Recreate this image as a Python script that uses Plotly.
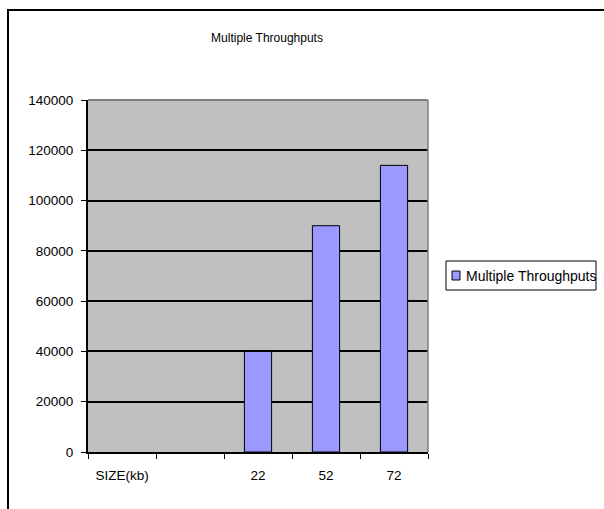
import plotly.graph_objects as go

# Throughput per transfer size
categories = ["SIZE(kb)", " ", "22", "52", "72"]
throughputs = [None, None, 40000, 90000, 114000]
y_ticks = [0, 20000, 40000, 60000, 80000, 100000, 120000, 140000]
series_name = "Multiple Throughputs"

W, H = 604, 509
L, R, T, B = 88, 428, 100, 452  # plot area in pixels

BAR_FILL = "#9999FF"
FAMILY = "Liberation Sans, Arial, sans-serif"


def px_x(p):
    return (p - L) / (R - L)


def px_y(p):
    return (B - p) / (B - T)


title_font = dict(family=FAMILY, size=12, color="black")
tick_font = dict(family=FAMILY, size=13.5, color="black")
legend_font = dict(family=FAMILY, size=14, color="black")

fig = go.Figure(
    go.Bar(
        x=categories,
        y=throughputs,
        name=series_name,
        marker=dict(color=BAR_FILL, line=dict(color="black", width=1)),
        width=0.4,
        showlegend=False,
    )
)

fig.update_layout(
    width=W,
    height=H,
    margin=dict(l=L, r=W - R, t=T, b=H - B, autoexpand=False),
    paper_bgcolor="white",
    plot_bgcolor="#C0C0C0",
    font=title_font,
    title=dict(
        text=series_name,
        font=title_font,
        xref="paper",
        x=px_x(267),
        xanchor="center",
        yref="container",
        y=1 - 38 / H,
        yanchor="middle",
    ),
    showlegend=False,
    bargap=0.6,
)

fig.update_xaxes(
    type="category",
    categoryorder="array",
    categoryarray=categories,
    tickson="boundaries",
    ticks="outside",
    ticklen=5,
    tickcolor="black",
    tickwidth=1,
    showline=True,
    linecolor="black",
    linewidth=2,
    showgrid=False,
    tickfont=tick_font,
    ticklabelstandoff=10,
    fixedrange=True,
)

fig.update_yaxes(
    range=[0, 140000],
    tickvals=y_ticks,
    ticktext=[str(v) for v in y_ticks],
    ticks="outside",
    ticklen=5,
    tickcolor="black",
    tickwidth=1,
    showline=True,
    linecolor="black",
    linewidth=2,
    showgrid=True,
    gridcolor="black",
    gridwidth=2,
    zeroline=False,
    tickfont=tick_font,
    ticklabelstandoff=5,
    fixedrange=True,
)

# plot-area frame (top and right edges) and chart-area border
fig.add_shape(type="line", xref="paper", yref="paper", x0=0, x1=1, y0=1, y1=1,
              line=dict(color="#808080", width=2), layer="above")
fig.add_shape(type="line", xref="paper", yref="paper", x0=1, x1=1, y0=0, y1=1,
              line=dict(color="#808080", width=1.5), layer="above")
fig.add_shape(type="rect", xref="paper", yref="paper",
              x0=px_x(8), x1=px_x(640), y0=px_y(10), y1=px_y(560),
              line=dict(color="black", width=2), fillcolor="rgba(0,0,0,0)",
              layer="above")

# series key: framed box, swatch and label
fig.add_shape(type="rect", xref="paper", yref="paper",
              x0=px_x(446), x1=px_x(596), y0=px_y(261), y1=px_y(290),
              line=dict(color="black", width=1), fillcolor="white", layer="above")
fig.add_shape(type="rect", xref="paper", yref="paper",
              x0=px_x(452), x1=px_x(460), y0=px_y(271), y1=px_y(280),
              line=dict(color="black", width=1), fillcolor=BAR_FILL, layer="above")
fig.add_annotation(
    text=series_name, xref="paper", yref="paper",
    x=px_x(464), y=px_y(275.5), xanchor="left", yanchor="middle",
    showarrow=False, font=legend_font,
)

fig.write_html("out.html")
